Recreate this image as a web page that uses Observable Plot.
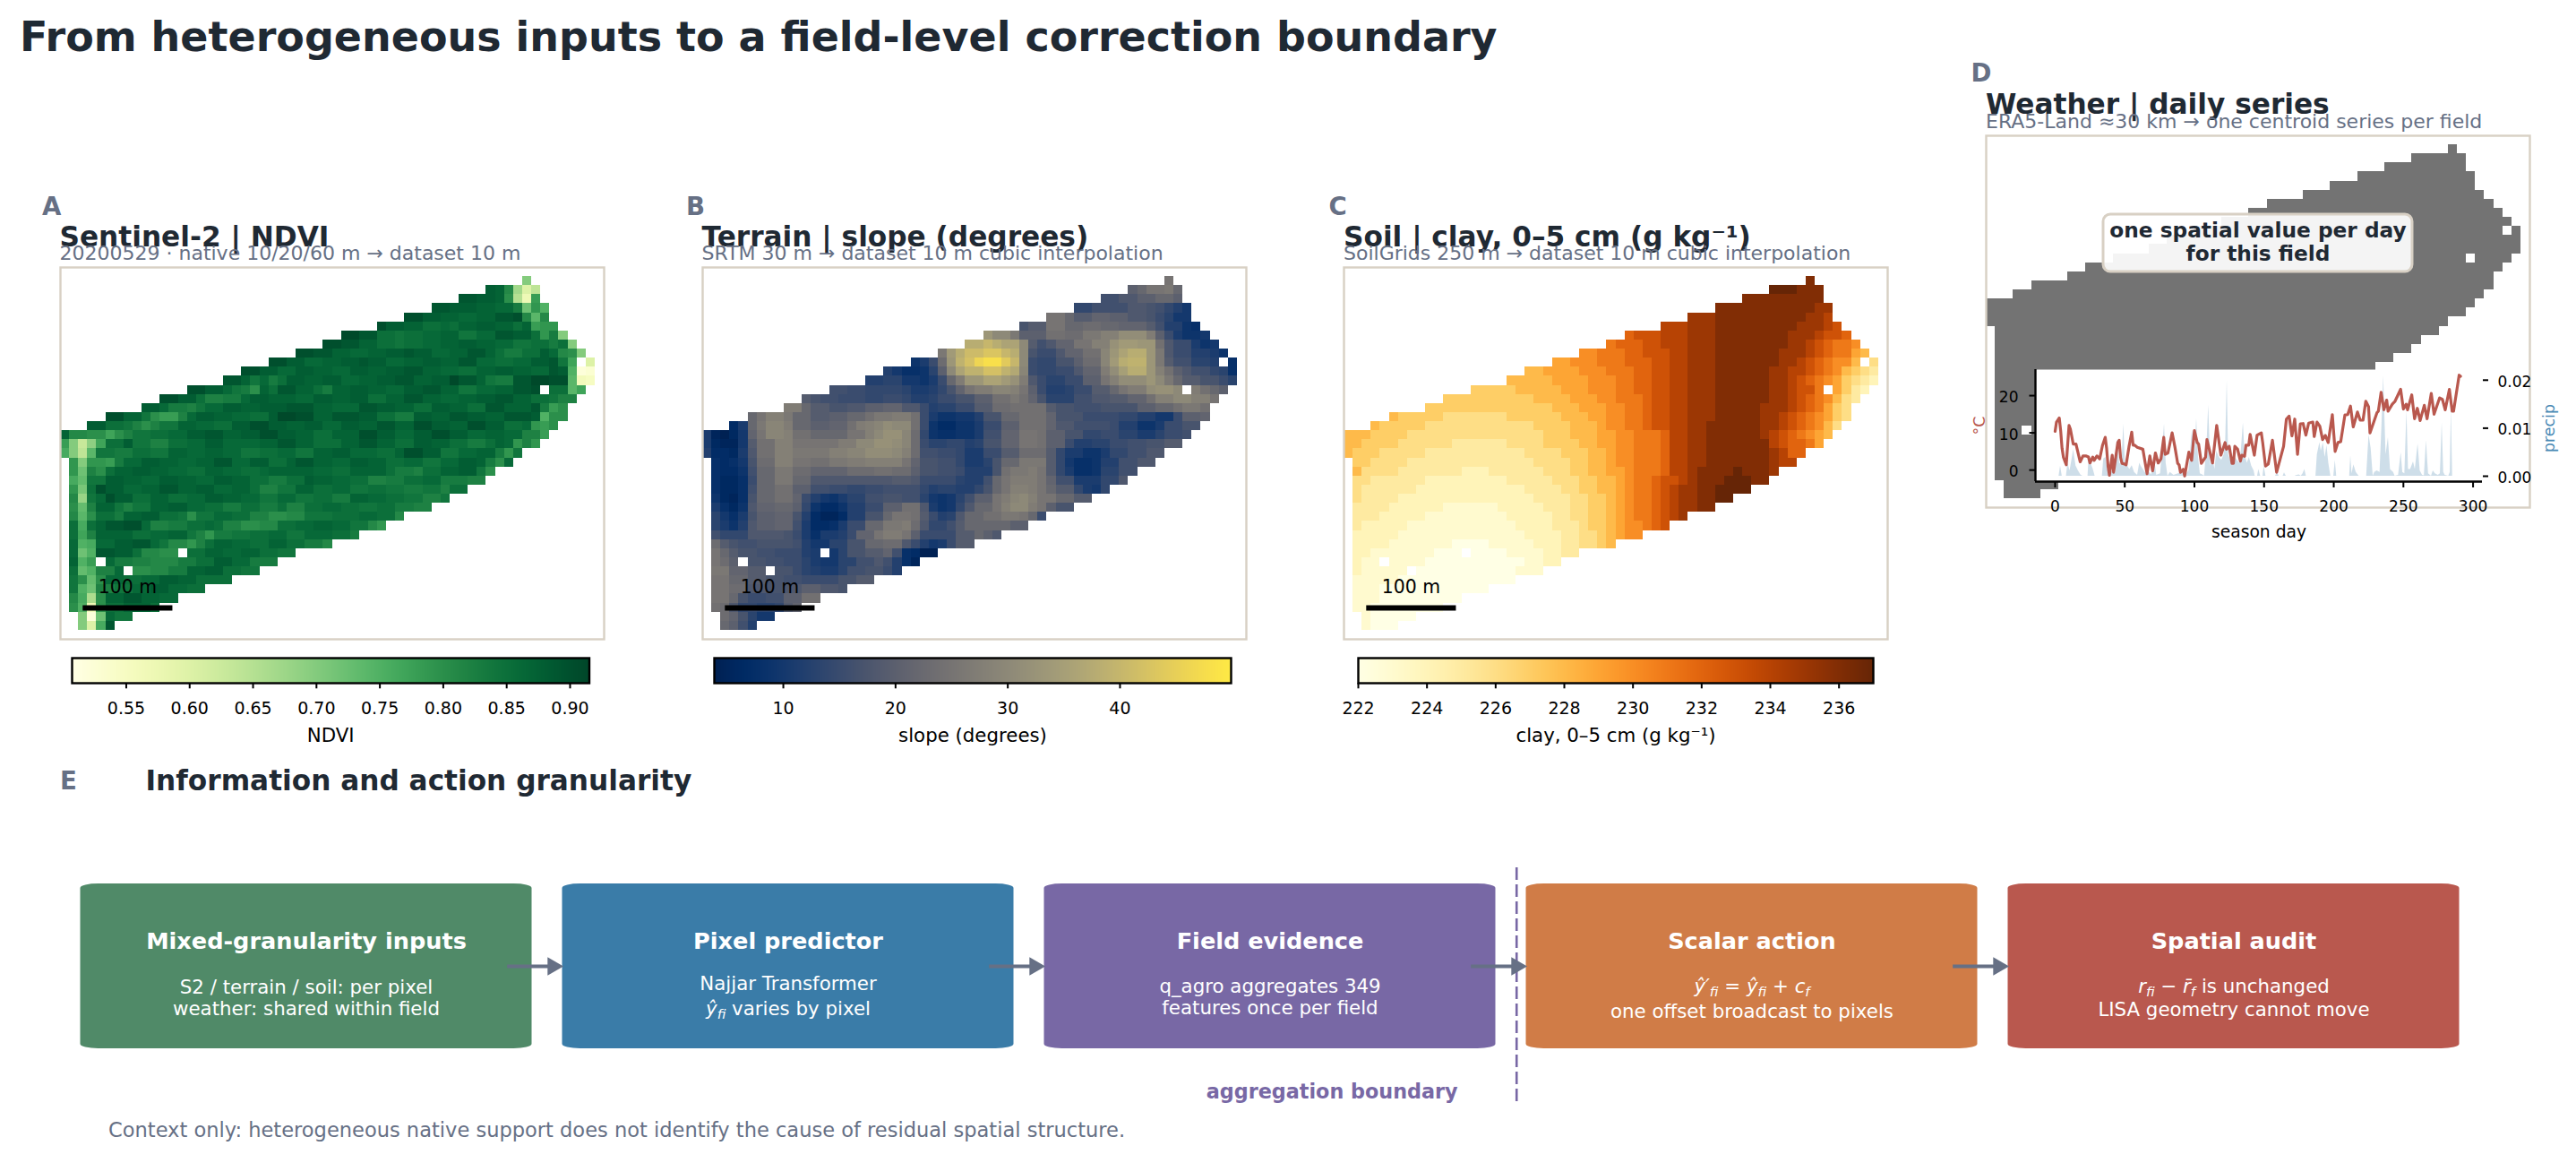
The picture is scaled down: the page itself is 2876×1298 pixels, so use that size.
<!DOCTYPE html>
<html><head><meta charset="utf-8">
<script src="https://cdn.jsdelivr.net/npm/d3@7"></script>
<script src="https://cdn.jsdelivr.net/npm/@observablehq/plot@0.6"></script>
<style>
html,body{margin:0;padding:0;background:#fff;}
#page{position:relative;width:2876px;height:1298px;overflow:hidden;font-family:"DejaVu Sans";color:#000;}
#page svg{position:absolute;background:transparent;max-width:none;height:auto;}
.lab{position:absolute;white-space:nowrap;line-height:0;}
</style></head><body><div id="page"></div>
<script>
// ---------- field grid (row 1..39, 60 x 41 cell raster) ----------
const rowFirst=[51,47,44,41,38,35,31,29,26,23,20,18,14,11,9,5,3,0,0,0,1,1,1,1,1,1,1,1,1,1,1,1,1,1,1,1,1,2,2];
const rowLast=[52,53,53,54,54,55,56,57,58,59,59,59,58,57,56,56,55,54,53,51,50,48,47,45,43,41,38,36,33,30,26,24,22,19,16,13,11,8,6];
const holes=["10,57","13,53","31,13","32,4","33,7"];
// each string: "startCol:value" runs
const ndviRuns=[
"51:.70",
"47:.88 48:.87 49:.81 50:.67 51:.60 52:.64",
"44:.89 46:.88 48:.87 49:.80 50:.65 51:.57 52:.78",
"41:.89 43:.88 46:.87 48:.86 50:.83 51:.72 52:.79 53:.75",
"38:.90 40:.88 42:.87 44:.86 46:.87 48:.89 50:.90 51:.81 52:.74 53:.81",
"35:.90 36:.88 38:.87 40:.85 42:.86 43:.85 44:.87 46:.88 48:.87 50:.85 51:.87 52:.78 53:.79",
"31:.91 33:.89 35:.85 37:.84 38:.85 40:.86 42:.87 44:.84 46:.86 48:.89 50:.88 52:.85 53:.79 54:.83 55:.70",
"29:.90 31:.89 33:.87 35:.85 37:.84 38:.85 40:.86 42:.87 44:.88 46:.87 48:.86 50:.84 52:.85 54:.83 55:.85 56:.70",
"26:.90 28:.89 30:.87 32:.86 34:.87 36:.88 38:.89 39:.88 41:.86 43:.87 45:.89 47:.87 48:.85 49:.83 51:.85 53:.88 54:.86 55:.81 56:.80 57:.70",
"23:.90 25:.88 27:.86 29:.87 31:.88 33:.89 34:.88 36:.86 38:.87 40:.88 42:.87 44:.89 46:.86 48:.85 50:.86 52:.88 54:.89 55:.84 56:.77 58:.60",
"20:.90 22:.88 24:.86 26:.88 28:.87 30:.86 32:.88 34:.87 36:.88 38:.89 40:.87 42:.86 44:.85 46:.87 48:.88 50:.87 52:.86 54:.89 55:.88 56:.75 57:.52 58:.53",
"18:.89 20:.87 21:.84 22:.86 23:.83 24:.85 25:.88 27:.87 29:.88 31:.86 33:.87 35:.88 37:.89 39:.87 41:.88 43:.91 44:.89 46:.87 47:.84 48:.83 50:.89 52:.91 54:.90 56:.74 57:.56 58:.55",
"14:.90 16:.88 18:.86 19:.84 20:.83 21:.80 22:.87 23:.85 24:.89 26:.87 28:.85 29:.83 30:.87 32:.88 34:.87 36:.86 38:.88 40:.89 42:.87 44:.84 46:.86 48:.87 50:.89 52:.90 54:.85 56:.74 57:.77",
"11:.90 13:.88 15:.85 16:.82 18:.83 20:.86 21:.88 23:.87 26:.86 28:.88 30:.87 32:.88 34:.85 36:.87 38:.89 40:.87 42:.86 44:.87 46:.88 48:.89 50:.87 52:.85 54:.84 55:.82",
"9:.88 11:.86 12:.83 14:.82 15:.84 16:.86 18:.88 20:.87 22:.88 25:.89 28:.87 30:.86 33:.89 35:.88 37:.87 39:.85 41:.88 43:.87 45:.85 47:.89 49:.87 52:.89 53:.83 54:.78 55:.80",
"5:.90 7:.87 9:.84 10:.80 11:.78 13:.82 14:.86 15:.88 17:.87 19:.86 21:.85 23:.88 24:.91 26:.90 28:.87 30:.89 33:.88 35:.85 37:.83 39:.88 41:.87 43:.89 45:.88 47:.87 49:.89 52:.88 53:.75 54:.80",
"3:.88 5:.85 7:.84 8:.82 9:.80 10:.82 11:.84 13:.87 15:.86 17:.85 19:.88 21:.90 23:.88 25:.87 27:.88 29:.86 31:.88 33:.87 35:.89 37:.87 39:.90 41:.88 43:.87 45:.90 47:.88 49:.85 51:.86 52:.79 53:.78 54:.80",
"0:.87 1:.81 3:.80 5:.77 6:.80 7:.82 8:.84 10:.85 12:.86 14:.88 16:.89 18:.87 20:.88 22:.90 24:.88 26:.87 28:.85 30:.87 33:.90 35:.88 37:.86 39:.88 41:.90 43:.88 45:.86 47:.87 49:.86 51:.82 53:.78",
"0:.78 1:.70 2:.63 3:.69 4:.77 5:.85 7:.88 8:.84 10:.82 12:.85 14:.86 16:.88 18:.86 22:.87 24:.89 26:.87 28:.85 31:.87 33:.89 35:.87 37:.85 39:.88 41:.87 43:.85 45:.83 47:.85 48:.87 49:.86 50:.79 51:.82 52:.79",
"0:.76 1:.70 2:.64 3:.74 4:.84 6:.83 8:.85 10:.84 12:.87 14:.86 16:.87 18:.86 20:.84 22:.85 24:.86 26:.84 28:.87 30:.88 32:.86 35:.85 37:.87 38:.90 40:.88 42:.84 44:.86 46:.87 48:.83 49:.79 50:.84",
"1:.79 2:.70 3:.79 5:.78 6:.83 7:.86 9:.88 11:.87 13:.86 15:.87 17:.89 19:.86 21:.88 23:.85 25:.87 26:.89 28:.87 30:.86 32:.88 34:.87 36:.85 38:.86 40:.84 42:.86 44:.88 46:.87 47:.83 48:.80 49:.86",
"1:.79 2:.72 3:.82 4:.80 5:.85 6:.87 8:.88 10:.87 12:.86 14:.85 16:.87 18:.86 20:.85 22:.86 23:.87 28:.86 30:.85 32:.87 36:.85 37:.83 39:.82 40:.85 42:.87 44:.88 46:.84 47:.80",
"1:.76 2:.73 3:.84 5:.88 7:.87 9:.86 11:.88 13:.87 15:.86 17:.88 19:.87 21:.85 23:.83 25:.85 27:.88 28:.87 30:.86 32:.85 34:.82 36:.83 38:.85 40:.86 42:.83 45:.82",
"1:.79 2:.71 3:.85 4:.90 5:.88 7:.86 9:.87 11:.89 13:.87 15:.88 17:.86 19:.87 21:.85 22:.82 24:.84 26:.87 28:.85 30:.86 32:.84 34:.85 36:.84 38:.83 40:.84 42:.82 43:.85",
"1:.81 2:.68 3:.84 4:.86 5:.90 6:.88 8:.85 10:.87 12:.85 14:.86 16:.88 18:.87 20:.86 22:.84 24:.86 26:.84 28:.85 30:.83 32:.87 34:.86 36:.85 38:.84 40:.82 42:.84",
"1:.80 2:.73 3:.82 4:.87 6:.84 7:.82 8:.84 10:.87 12:.88 14:.86 16:.85 18:.83 20:.85 22:.83 24:.85 25:.82 27:.85 29:.86 31:.85 33:.84 35:.85 37:.83 39:.82",
"1:.81 2:.74 3:.80 4:.85 6:.83 7:.87 9:.88 11:.85 13:.84 14:.80 15:.84 17:.86 19:.85 21:.82 23:.80 25:.81 27:.84 30:.85 33:.86 35:.85 37:.81",
"1:.85 2:.76 3:.85 4:.87 5:.89 7:.90 9:.86 10:.82 12:.83 14:.85 16:.86 17:.85 18:.82 20:.80 22:.81 24:.85 26:.86 28:.87 30:.86 32:.84 34:.81 35:.79",
"1:.85 2:.77 3:.82 4:.87 8:.85 10:.86 12:.87 14:.84 15:.82 16:.79 17:.83 19:.84 21:.85 23:.86 25:.84 27:.86 30:.85 32:.83",
"1:.86 2:.75 3:.76 4:.86 6:.88 8:.89 10:.86 11:.84 12:.81 14:.79 15:.82 16:.85 17:.87 19:.86 21:.85 23:.87 25:.85 27:.83 29:.81",
"1:.86 2:.72 3:.75 4:.89 6:.88 8:.85 9:.81 11:.80 14:.85 16:.87 18:.86 20:.87 22:.85 24:.84",
"1:.87 2:.75 3:.78 5:.86 6:.83 8:.82 10:.81 13:.83 15:.85 17:.88 19:.86 21:.83",
"1:.85 2:.73 3:.75 4:.82 6:.86 8:.80 10:.81 12:.83 14:.87 16:.88 18:.85 20:.84",
"1:.84 2:.80 3:.73 4:.80 5:.86 7:.85 9:.86 11:.88 13:.87 15:.85",
"1:.84 2:.75 3:.72 4:.82 6:.84 8:.86 10:.88 12:.86 14:.85",
"1:.81 2:.76 3:.66 4:.80 5:.87 7:.89 9:.87 11:.86",
"1:.80 2:.75 3:.57 4:.80 5:.85 7:.87 10:.85",
"2:.70 3:.52 4:.72 5:.86 6:.84",
"2:.70 3:.60 4:.76 5:.89"];
const slopeRuns=[
"51:25",
"47:20 48:22 49:25 51:26 52:22",
"44:16 46:18 48:20 50:22 52:20",
"41:14 43:16 47:18 49:17 50:16 51:14 52:12 53:10",
"38:25 40:22 41:19 43:21 45:20 47:18 49:17 50:15 51:13 52:10",
"35:17 36:19 38:25 40:22 42:23 44:22 46:21 49:19 50:16 51:12 53:9 54:8",
"31:33 32:30 34:26 35:20 38:24 40:23 42:26 44:28 46:31 49:27 50:20 51:15 52:11 53:9 55:10",
"29:38 31:40 32:38 33:36 35:30 36:19 37:16 38:18 39:21 41:25 43:28 45:32 46:34 48:33 50:24 51:18 52:15 54:11 55:9 56:10",
"26:26 27:34 28:38 29:41 31:43 33:40 34:38 35:30 36:17 37:15 39:18 40:21 42:24 44:29 45:33 46:36 47:38 49:33 50:26 51:18 52:15 54:12 56:11 57:9",
"23:9 24:11 25:15 26:23 27:33 28:39 29:42 30:46 31:48 33:44 34:40 35:30 36:15 37:14 39:17 41:20 42:23 44:29 45:34 46:38 47:39 49:33 50:26 51:19 52:16 54:13 56:12 58:8",
"20:12 21:10 22:8 24:9 25:13 26:20 27:30 28:36 29:39 31:42 33:39 34:37 35:29 36:15 37:14 39:15 41:18 42:21 44:27 45:31 46:35 47:38 49:33 50:28 51:24 52:20 53:18 54:16 56:14 57:13 58:8",
"18:12 20:13 22:10 24:9 25:11 26:15 27:22 28:27 29:33 31:36 33:34 34:32 35:27 36:18 37:15 38:13 40:15 42:20 44:25 45:28 46:31 49:33 50:30 51:26 52:22 53:19 55:17 57:15 58:13",
"14:16 16:15 18:14 22:13 23:11 25:12 26:14 27:17 28:21 29:25 30:27 32:29 34:28 35:25 36:20 37:15 38:12 40:13 41:15 43:19 45:22 46:25 47:27 49:31 50:32 52:30 54:27 55:24 56:22 57:20",
"11:19 12:17 13:16 15:15 18:14 20:15 22:14 23:12 25:13 26:15 28:17 30:20 32:24 34:26 35:24 36:21 37:17 38:13 41:16 43:18 45:19 47:21 49:24 50:28 52:30 54:28 56:25",
"9:27 11:22 12:19 14:17 16:18 18:20 20:21 22:18 24:15 25:12 26:13 28:15 30:19 32:23 34:24 38:19 39:17 41:16 44:17 48:20 50:22 52:24 53:26 55:24",
"5:22 6:25 7:28 9:26 10:22 12:19 14:20 16:22 18:24 19:26 21:27 23:24 24:15 25:11 26:9 28:10 30:12 31:17 33:22 35:24 38:21 39:17 42:15 46:14 48:12 50:10 52:15 53:20 55:21",
"3:7 4:11 5:22 6:26 7:29 9:27 10:22 12:20 14:21 16:24 17:27 18:28 19:29 20:31 21:30 23:24 24:15 25:9 26:7 28:9 30:11 31:15 33:20 35:24 38:21 39:18 41:16 45:15 46:12 48:9 50:11 51:15 53:17",
"0:11 1:5 2:4 3:6 4:10 5:21 6:25 7:29 9:28 10:24 12:22 16:25 18:28 19:30 20:32 22:29 23:23 24:14 25:9 26:8 28:9 30:11 31:16 33:21 35:25 37:24 38:20 40:17 42:14 44:15 46:13 48:11 50:13 51:15 53:16",
"0:11 1:6 2:5 4:10 5:19 6:24 8:28 10:25 15:27 17:30 19:32 21:31 22:29 23:23 24:15 25:13 27:14 29:12 30:13 31:17 33:21 35:25 37:24 38:20 40:15 41:12 43:13 45:15 47:16 49:17 51:19",
"0:12 1:7 3:6 4:11 5:18 6:24 8:28 10:26 14:28 16:29 18:31 21:30 22:28 23:23 24:16 26:15 28:14 29:11 31:15 33:19 35:23 38:19 39:14 40:11 42:9 44:11 45:14 47:16 49:18",
"1:8 2:7 3:8 4:10 5:17 6:23 8:28 10:25 12:24 14:26 16:27 18:28 22:25 23:21 24:17 26:16 28:14 29:11 31:13 32:17 33:22 35:26 38:19 39:14 40:10 41:8 43:9 44:12 46:16 48:18",
"1:8 2:7 4:9 5:16 6:22 8:26 10:23 12:21 16:23 19:24 21:23 23:20 24:17 26:16 28:15 29:12 32:17 33:24 34:26 36:27 37:25 38:19 39:14 40:11 41:8 43:9 44:13 46:16",
"1:8 2:6 4:8 5:15 6:22 8:26 10:22 12:18 21:19 23:18 24:15 28:13 29:12 31:16 32:22 33:25 34:27 37:25 38:21 39:16 41:11 44:14 46:18",
"1:8 2:6 4:8 5:16 6:22 8:24 10:20 12:16 14:15 16:14 18:15 20:16 24:14 25:12 26:13 28:12 30:14 31:17 32:22 33:25 34:28 36:27 37:25 38:22 39:19 41:14 42:11 43:10 44:14",
"1:9 2:6 3:5 4:8 5:17 6:22 8:24 10:21 11:15 12:12 13:10 14:9 15:11 16:13 18:16 20:17 22:16 24:13 25:10 26:9 27:10 28:13 29:16 30:20 32:25 33:27 34:29 35:30 36:28 37:25 39:22 41:19",
"1:11 2:8 3:6 4:9 5:18 6:21 8:22 10:20 11:14 12:9 13:7 15:9 16:12 18:15 20:20 22:24 24:18 25:11 26:9 27:10 28:14 29:18 30:22 32:25 33:28 34:30 36:27 37:25 38:20 39:17",
"1:13 2:10 3:8 4:11 5:17 6:20 8:21 10:17 11:12 12:7 13:5 15:7 16:12 18:17 20:22 21:25 23:24 24:19 25:15 26:12 27:13 28:18 29:22 31:24 33:26 35:25 36:22 37:15",
"1:13 2:11 3:9 4:12 5:18 6:20 8:21 10:16 11:11 12:7 14:8 15:11 16:15 18:22 20:26 22:27 23:23 24:18 25:14 27:16 28:19 29:22 34:20",
"1:16 2:14 5:18 9:17 10:15 11:11 12:8 13:11 15:12 16:15 17:21 19:25 20:27 22:25 23:20 24:15 28:19 30:22 31:20 32:18",
"1:23 2:19 3:17 4:16 6:17 10:16 11:12 12:10 14:13 16:17 18:22 20:23 22:18 23:15 24:12 25:10 26:11 27:15 28:19",
"1:25 2:22 3:19 4:17 6:16 8:15 11:12 12:11 14:10 15:13 16:17 18:19 20:21 21:16 22:8 23:7 24:4",
"1:25 2:23 3:20 5:17 7:16 9:15 11:13 12:11 13:10 15:13 17:16 19:18 20:16 21:12 22:8 23:5",
"1:26 3:21 5:19 7:17 10:15 11:13 12:12 13:11 15:13 16:16 18:17 20:15 21:12",
"1:25 3:22 5:19 7:17 9:16 11:15 15:17 17:19",
"1:25 3:23 5:18 7:17 9:18 11:20 13:18 15:17",
"1:25 3:22 4:17 5:15 7:16 9:20 11:24",
"1:24 2:23 3:18 4:14 6:13 8:14 9:19 10:21",
"2:23 3:21 4:17 5:13 6:10",
"2:22 3:20 4:16 5:12"];
const clayRuns=[
"51:236",
"47:237 50:236",
"44:236",
"41:236 52:235",
"38:235 41:236 51:235 53:234",
"35:234 38:235 41:236 50:235 53:234 54:233",
"31:232 32:233 35:234 38:235 41:236 49:235 52:234 53:233 55:232",
"29:231 30:232 33:233 35:234 38:235 41:236 49:235 51:234 52:233 53:232 54:231 56:230",
"26:230 28:231 31:232 33:233 36:234 38:235 41:236 48:235 51:234 52:233 53:232 54:231 56:229 57:228",
"23:229 25:230 28:231 31:232 34:233 36:234 38:235 41:236 48:235 50:234 51:233 52:232 53:231 54:230 56:228 58:226",
"20:228 22:229 26:230 29:231 32:232 34:233 36:234 38:235 41:236 47:235 49:234 51:233 52:232 53:231 54:230 55:228 56:227 57:226 58:225",
"18:228 23:229 27:230 30:231 32:232 34:233 36:234 38:235 41:236 47:235 49:234 50:233 51:232 52:231 53:230 54:229 55:227 56:226 57:225 58:224",
"14:227 19:228 24:229 27:230 30:231 32:232 34:233 36:234 38:235 41:236 47:235 49:234 50:233 52:231 54:229 55:227 56:225 57:224",
"11:227 21:228 25:229 28:230 30:231 33:232 34:233 36:234 38:235 41:236 47:235 49:234 50:233 51:232 52:231 53:230 54:228 55:226 56:225",
"9:227 23:228 26:229 29:230 31:231 33:232 34:233 36:234 38:235 41:236 46:235 49:234 50:233 51:232 52:231 53:229 54:227 55:226",
"5:228 6:227 11:226 18:227 24:228 27:229 29:230 31:231 33:232 34:233 36:234 38:235 41:236 46:235 48:234 49:233 50:232 51:231 52:230 53:229 54:227 55:226",
"3:228 4:227 9:226 21:227 25:228 28:229 29:230 31:231 33:232 34:233 36:234 38:235 40:236 46:235 48:234 49:233 50:232 51:231 52:230 53:228 54:226",
"0:228 3:227 7:226 22:227 25:228 28:229 30:230 32:231 35:232 36:234 38:235 40:236 46:235 47:234 48:233 49:232 50:231 51:230 52:229 53:228",
"0:228 2:227 6:226 12:225 18:226 22:227 26:228 28:229 30:230 32:231 35:232 36:234 38:235 40:236 47:234 48:233 49:232 51:231 52:229",
"0:228 1:227 4:226 9:225 20:226 24:227 27:228 29:229 30:230 32:231 35:232 36:234 38:235 40:236 47:235 48:234 49:232",
"1:227 3:226 7:225 21:226 25:227 27:228 29:229 30:230 32:231 35:232 36:234 38:235 40:236 47:235 48:234",
"1:228 2:226 6:225 13:224 16:225 22:226 25:227 27:228 29:229 31:230 32:231 35:232 36:234 38:235 39:236 43:237 44:236 47:235",
"1:226 3:225 9:224 18:225 23:226 26:227 28:228 30:229 31:230 32:231 34:232 35:233 37:234 38:235 39:236 42:237 45:236",
"1:226 2:225 8:224 20:225 24:226 26:227 28:228 30:229 31:230 32:231 34:232 35:233 36:234 37:235 39:236 41:237",
"1:226 2:225 6:224 21:225 25:226 27:227 29:228 30:229 31:230 32:231 34:232 35:233 36:234 37:235 39:236 41:237",
"1:225 5:224 11:223 17:224 22:225 25:226 27:227 29:228 30:229 31:230 32:231 34:232 35:233 36:234 37:235 39:236",
"1:225 4:224 9:223 18:224 23:225 25:226 27:227 29:228 30:229 31:230 32:231 34:232 35:233 36:234 37:235",
"1:225 2:224 7:223 19:224 23:225 26:226 27:227 29:228 30:229 31:230 33:231 34:232 35:233",
"1:224 6:223 20:224 24:225 26:226 28:227 29:228 30:229 31:230",
"1:224 5:223 12:222 16:223 21:224 24:225 26:226 28:227 29:228",
"1:224 3:223 10:222 18:223 22:224 24:225",
"1:224 2:223 9:222 20:223 22:224",
"1:224 2:223 8:222 19:223",
"1:223 6:222",
"1:223 4:222",
"1:223 4:222",
"1:223 3:222",
"2:223 3:222",
"2:223 3:222"];

// ---------- weather inset ----------
const tempDays=[0,1,3,4,5,6,8,10,11,13,15,17,18,20,22,24,25,27,28,30,32,34,36,37,38,39,41,42,45,46,47,48,50,51,53,55,56,57,59,63,64,66,68,70,72,74,76,78,79,81,84,86,88,89,90,92,93,96,98,100,102,103,105,108,109,113,116,119,122,123,125,127,128,129,131,133,134,136,137,139,140,143,145,148,149,151,153,156,159,164,166,168,170,172,174,176,178,180,182,185,186,188,190,192,194,196,199,201,203,205,208,210,212,214,217,219,221,223,225,226,229,231,232,234,236,238,239,242,244,248,250,252,253,256,258,260,262,265,267,270,272,276,278,280,283,285,286,290,291];
const tempValues=[10.4,12.9,14,10.6,5.8,3.4,1.4,12,11,7,7,3.8,2.2,3.8,3.8,3.5,1.9,3.5,2.6,3.8,3,6.6,8.8,5.8,1,-1.4,4,-.6,7.4,8,3.4,1.8,1.6,1.4,6.2,10.2,6.7,6.7,6.1,5.6,3.4,-1,3.8,-.2,4.6,1.9,3,8.8,4.2,4.6,10,6.2,1.8,1.4,-.6,.2,-1.6,4.8,2.6,10.6,7.4,7,1.8,3.5,8.2,1.9,12,4,7.4,5.6,6.4,1.8,1.8,6.4,5.6,2.4,4,3.7,6.7,6.7,9.6,4,9.4,10,7.4,1.1,1.6,8,-.6,6.4,13.7,14.5,9.2,13.7,4.2,12.4,12.5,9.4,12.6,12.9,9,12.9,11.8,8.2,9.3,7.4,14.9,5,7.4,7.6,14.8,14.9,17.2,11.6,15.6,13.4,13.4,18.5,17,10,13.2,15.4,15.8,20.9,16.2,18.8,15.8,17.7,18.5,21.7,16.4,17.7,16.2,20.2,13.8,16.6,13.3,17.4,13.8,20.6,15,19.4,19,16.2,21.7,15.8,15.8,25.5,25.2];
const precipDays=[2.8,3.9,5.1,8.1,9.2,10.7,13.3,15,16.7,18.4,19.9,23.6,24.2,25.7,27.4,28.7,33.9,34.9,36.4,37.7,39.9,42,43.5,44.6,46.3,47.8,49.3,50.4,52.1,53.6,55.3,57,59.2,60.7,61.7,63.9,66,67.7,69.2,71.4,72.9,75.7,78.5,79.7,81,82.7,85.3,88.5,91.7,93.9,96,98.5,100.4,101.6,102.9,104.2,105.9,107.2,108.9,110.2,111.7,113.2,114.7,116,117.9,119.6,121.3,122.4,123.5,124.5,126,127.8,129.3,130.8,132.5,133.6,135.1,136.3,137.9,139.4,141.1,142.8,143.6,145.3,146.2,147.5,149.2,150,151.3,158.2,159.5,160.8,163.6,164.6,165.9,172.1,173.6,175.3,176.6,177.9,179.2,180.3,187.2,188.2,190,191,192.5,193.8,195.1,196.4,197.9,200,201.1,202.1,205.4,211.4,212.2,213.1,214.4,216.1,218.2,223.6,225.3,226.8,228.3,229.4,231.1,233.2,234.5,235.8,237.5,239.2,240.7,242.9,244,246.5,248.4,249.5,251,252.5,253.6,255.1,257.2,258.5,260.5,262,263.7,265,266.5,268,270.1,271.4,272.9,275,276.5,277.8,278.9,280,282.5,283.6,284.4,285.3,291];
const precipValues=[0,.0021,0,0,.0027,.0011,.0055,.0021,.0011,.0003,0,0,.0033,.0027,.0014,0,0,.0036,.0039,.0014,.0008,.0011,.0005,.0077,.0027,.0024,.0108,.0027,.0021,.0014,.0022,.0008,.0002,.0027,.0021,.0011,.0002,.0008,.0003,.0039,.0002,.0005,.0108,.0027,0,.0008,.0002,.0005,.0008,.0002,.0011,.0096,.0046,.0120,.0039,.0005,.0003,0,.0058,.0148,.0021,.0039,.0014,.0052,.0039,.0033,.0045,.0070,.0198,.0045,.0033,.0027,.0039,.0033,.0027,.0052,.0111,.0045,.0027,.0039,.0021,.0011,0,0,.0014,0,0,.0021,0,0,.0008,0,0,.0007,0,0,.0002,.0003,0,.0005,.0014,0,0,.0045,.0070,.0052,.0070,.0039,.0064,.0027,0,0,.0033,0,0,0,.0042,.0005,.0024,.0008,0,0,.0086,.0058,0,.0008,.0011,.0008,.0101,.0209,.0045,.0080,.0014,.0008,0,.0002,.0049,.0008,.0005,.0136,.0014,.0014,.0030,.0014,.0067,.0011,.0002,.0001,.0074,.0005,0,.0011,.0005,.0002,.0005,.0111,.0008,.0002,0,.0008,.0142,0,0];

// ---------- flow diagram ----------
const boxTitles=["Mixed-granularity inputs","Pixel predictor","Field evidence","Scalar action","Spatial audit"];
const boxFirstLine=["S2 / terrain / soil: per pixel","Najjar Transformer","q_agro aggregates 349","{i:ŷ′}{s:fi} = {i:ŷ}{s:fi} + {i:c}{s:f}","{i:r}{s:fi} − {i:r̄}{s:f} is unchanged"];
const boxSecondLine=["weather: shared within field","{i:ŷ}{s:fi} varies by pixel","features once per field","one offset broadcast to pixels","LISA geometry cannot move"];
const boxColors=["#508a68","#3a7ca8","#7868a5","#d07c47","#b9584e"];
const firstLineHeight=[62,66,63,63,63];
const secondLineHeight=[38,37.3,39,35,37];

const INK="#1f2933",MUTED="#667085",EDGE="#d8d0c4",RED="#b9584e",BLUE="#3a7ca8",PURPLE="#7868a5",GREY="#737373";
const FONT='"DejaVu Sans"';
const page=document.getElementById("page");
const ctx=document.createElement("canvas").getContext("2d");
const fit=(t,w,weight="normal")=>{ctx.font=`${weight} 100px ${FONT}`;return 100*w/ctx.measureText(t).width;};
function label(t,x,base,size,color,weight="normal"){
  const d=document.createElement("div");d.className="lab";d.textContent=t;
  d.style.cssText=`left:${x}px;top:${base-0.346*size}px;font-size:${size}px;color:${color};font-weight:${weight}`;
  page.append(d);
}
function place(svg,left,top){svg.style.left=left+"px";svg.style.top=top+"px";page.append(svg);return svg;}
function mathText(svg,fs){
  svg.querySelectorAll("text").forEach(t=>{
    const s=t.textContent; if(!s.includes("{"))return;
    t.textContent="";let low=false;
    for(const m of s.matchAll(/\{([is]):([^}]*)\}|([^{]+)/g)){
      const sp=document.createElementNS("http://www.w3.org/2000/svg","tspan");
      const sub=m[1]==="s";
      sp.textContent=m[2]??m[3];
      if(m[1])sp.setAttribute("font-style","italic");
      if(sub)sp.setAttribute("font-size",fs*.7);
      if(sub&&!low){sp.setAttribute("dy",fs*.2);low=true;}
      else if(!sub&&low){sp.setAttribute("dy",-fs*.2);low=false;}
      t.append(sp);
    }
  });
}
function nudgeYLabels(svg,px){
  svg.querySelectorAll('[aria-label="y-axis tick label"] text').forEach(t=>{
    t.setAttribute("transform",(t.getAttribute("transform")||"")+` translate(0,${px})`);
  });
  return svg;
}

// ---------- decode field ----------
function decode(runs){
  const out=[];
  runs.forEach((str,i)=>{
    const row=i+1;
    const parts=str.split(" ").map(p=>p.split(":").map(Number));
    for(let col=rowFirst[i];col<rowLast[i];col++){
      if(holes.includes(row+","+col))continue;
      let v=parts[0][1];
      for(const [c,val] of parts) if(c<=col) v=val;
      out.push({col,row,v});
    }
  });
  return out;
}

const FW=607,FH=415,COLS=60,ROWS=41,PAD=2;
function fieldPlot(cells,fill,color,extra=[]){
  return Plot.plot({
    width:FW+2*PAD,height:FH+2*PAD,marginLeft:PAD,marginRight:PAD,marginTop:PAD,marginBottom:PAD,
    style:{fontFamily:FONT,background:"transparent"},
    x:{domain:[0,COLS],axis:null},y:{domain:[ROWS,0],axis:null},color,
    marks:[Plot.rect(cells,{x1:"col",x2:d=>d.col+1,y1:"row",y2:d=>d.row+1,fill,shapeRendering:"crispEdges"}),
      Plot.frame({stroke:EDGE,strokeWidth:2.4}),...extra]
  });
}
const scaleBar=[{x1:2.5,x2:12.4,y:37.55,tx:7.4,ty:35.95,t:"100 m"}];
const barMarks=[
  Plot.ruleY(scaleBar,{x1:"x1",x2:"x2",y:"y",stroke:"black",strokeWidth:6}),
  Plot.text(scaleBar,{x:"tx",y:"ty",text:"t",fontSize:20.4,fill:"black",lineAnchor:"bottom"})
];
function colorbar(left,right,scheme,domain,ticks,fmt,text){
  const M=30;
  const svg=Plot.plot({
    width:right-left+2*M,height:103,marginLeft:M,marginRight:M,marginTop:2,marginBottom:73,
    style:{fontFamily:FONT,background:"transparent"},
    x:{domain},y:{domain:[0,1],axis:null},
    color:{type:"linear",scheme,domain},
    marks:[
      Plot.raster({fill:(x,y)=>x,x1:domain[0],x2:domain[1],y1:0,y2:1,pixelSize:1}),
      Plot.frame({stroke:"black",strokeWidth:2.4}),
      Plot.axisX({ticks,tickFormat:fmt,tickSize:6.3,tickPadding:14.5,fontSize:19,strokeWidth:2,label:null,fill:"black",stroke:"black"}),
      Plot.text([text],{frameAnchor:"bottom",dy:65.6,lineAnchor:"bottom",fontSize:21.3,fill:"black"})
    ]
  });
  place(svg,left-M,732);
}

// ---------- header text ----------
label("From heterogeneous inputs to a field-level correction boundary",22,57,fit("From heterogeneous inputs to a field-level correction boundary",1650,"bold"),INK,"bold");
const TS=fit("Sentinel-2 | NDVI",301,"bold");
const SS=fit("20200529 · native 10/20/60 m → dataset 10 m",515);
const LS=27.6;
[["A",47,66.5,"Sentinel-2 | NDVI","20200529 · native 10/20/60 m → dataset 10 m"],
 ["B",766,783.5,"Terrain | slope (degrees)","SRTM 30 m → dataset 10 m cubic interpolation"],
 ["C",1483.5,1500,"Soil | clay, 0–5 cm (g kg⁻¹)","SoilGrids 250 m → dataset 10 m cubic interpolation"]
].forEach(([l,lx,x,t,s])=>{
  label(l,lx,240.5,LS,MUTED,"bold");
  label(t,x,275,TS,INK,"bold");
  label(s,x,291,SS,MUTED);
});
label("D",2200.6,92,LS,MUTED,"bold");
label("Weather | daily series",2217,127,TS,INK,"bold");
label("ERA5-Land ≈30 km → one centroid series per field",2217,143.5,SS,MUTED);
label("E",67,881.7,LS,MUTED,"bold");
label("Information and action granularity",162.5,882,fit("Information and action granularity",610,"bold"),INK,"bold");
const CAP="Context only: heterogeneous native support does not identify the cause of residual spatial structure.";
label(CAP,121,1268.5,fit(CAP,1136),MUTED);

// ---------- panels A, B, C ----------
place(fieldPlot(decode(ndviRuns),"v",{type:"linear",scheme:"YlGn",domain:[.5073,.9152]},barMarks),66.5-PAD,298-PAD);
place(fieldPlot(decode(slopeRuns),"v",{type:"linear",scheme:"cividis",domain:[3.85,49.9]},barMarks),783.5-PAD,298-PAD);
place(fieldPlot(decode(clayRuns),"v",{type:"linear",scheme:"YlOrBr",domain:[222,237]},barMarks),1500-PAD,298-PAD);
colorbar(80,657.5,"YlGn",[.5073,.9152],[.55,.6,.65,.7,.75,.8,.85,.9],d3.format(".2f"),"NDVI");
colorbar(797,1374,"cividis",[3.85,49.9],[10,20,30,40],d3.format("d"),"slope (degrees)");
colorbar(1516,2091,"YlOrBr",[222,237],[222,224,226,228,230,232,234,236],d3.format("d"),"clay, 0–5 cm (g kg⁻¹)");

// ---------- panel D ----------
const annotation=[{x1:12.95,x2:47.05,y1:8.7,y2:15.02}];
const annoLines=[{t:"one spatial value per day",y:11.17},{t:"for this field",y:13.83}];
const ANNO=fit("one spatial value per day",331.5,"bold");
place(fieldPlot(decode(clayRuns),GREY,undefined,[
  Plot.rect(annotation,{x1:"x1",x2:"x2",y1:"y1",y2:"y2",fill:"white",fillOpacity:.92,stroke:EDGE,strokeWidth:3,rx:8}),
  Plot.text(annoLines,{x:30,y:"y",text:"t",fontSize:ANNO,fontWeight:"bold",fill:INK,lineAnchor:"bottom"})
]),2217-PAD,151-PAD);

const inset={width:680,height:220,marginLeft:82,marginRight:99,marginTop:12,marginBottom:83,
  style:{fontFamily:FONT,background:"transparent"}};
const xDom=[-14.1,306.7];
place(nudgeYLabels(Plot.plot({...inset,x:{domain:xDom},y:{domain:[-.00112,.0222]},
  marks:[
    Plot.frame({fill:"white",stroke:"none"}),
    Plot.areaY(precipDays,{x:(d)=>d,y:(d,i)=>precipValues[i],fill:BLUE,fillOpacity:.25}),
    Plot.axisY({anchor:"right",ticks:[0,.01,.02],tickFormat:d3.format(".2f"),tickSize:6,tickPadding:11,fontSize:17,strokeWidth:2,label:null,fill:"black",stroke:"black"}),
    Plot.axisX({ticks:[],label:null}),
    Plot.text(["precip"],{frameAnchor:"right",dx:75,dy:3,rotate:-90,fontSize:17.4,fill:"#4a8ab5",textAnchor:"middle"})
  ]}),2),2190,400);
place(nudgeYLabels(Plot.plot({...inset,x:{domain:xDom},y:{domain:[-3.1,27]},
  marks:[
    Plot.line(tempDays,{x:d=>d,y:(d,i)=>tempValues[i],stroke:RED,strokeWidth:3.2,curve:"linear"}),
    Plot.ruleX([xDom[0]],{stroke:"black",strokeWidth:2.4}),
    Plot.ruleY([-3.1],{stroke:"black",strokeWidth:2.4}),
    Plot.axisX({ticks:[0,50,100,150,200,250,300],tickFormat:d3.format("d"),tickSize:7,tickPadding:14,fontSize:17,strokeWidth:2,label:null,fill:"black",stroke:"black"}),
    Plot.axisY({anchor:"left",ticks:[0,10,20],tickFormat:d3.format("d"),tickSize:6.5,tickPadding:12.5,fontSize:17,strokeWidth:2,label:null,fill:"black",stroke:"black"}),
    Plot.text(["season day"],{frameAnchor:"bottom",dy:62,lineAnchor:"bottom",fontSize:18.7,fill:"black"}),
    Plot.text(["°C"],{frameAnchor:"left",dx:-62,rotate:-90,fontSize:17.4,fill:RED,textAnchor:"middle"})
  ]}),2),2190,400);

// ---------- panel E flow ----------
const STEP=538,LEFT=89.5,BOXW=504/538;
const FT=fit("Mixed-granularity inputs",358,"bold");
const FB=fit("weather: shared within field",298);
const idx=boxTitles.map((_,i)=>i);
const arrows=idx.slice(0,4);
const flow=Plot.plot({
  width:2876,height:368,marginLeft:0,marginRight:0,marginTop:0,marginBottom:0,
  style:{fontFamily:FONT,background:"transparent"},
  x:{domain:[-LEFT/STEP,(2876-LEFT)/STEP],axis:null},
  y:{domain:[-128,240],axis:null},
  marks:[
    Plot.rect(idx,{x1:i=>i,x2:i=>i+BOXW,y1:0,y2:184,fill:i=>boxColors[i],rx:20,ry:5}),
    Plot.ruleX([2.98],{y1:-59,y2:204,stroke:PURPLE,strokeWidth:2.6,strokeDasharray:"14,5"}),
    Plot.text(idx,{x:i=>i+BOXW/2,y:112,text:i=>boxTitles[i],fill:"white",fontWeight:"bold",fontSize:FT,lineAnchor:"bottom"}),
    Plot.text(idx,{x:i=>i+BOXW/2,y:i=>firstLineHeight[i],text:i=>boxFirstLine[i],fill:"white",fontSize:FB,lineAnchor:"bottom"}),
    Plot.text(idx,{x:i=>i+BOXW/2,y:i=>secondLineHeight[i],text:i=>boxSecondLine[i],fill:"white",fontSize:FB,lineAnchor:"bottom"}),
    Plot.ruleY(arrows,{x1:i=>i+.886,x2:i=>i+.985,y:92,stroke:MUTED,strokeWidth:4}),
    Plot.dot(arrows,{x:i=>i+.98,y:92,symbol:"triangle",r:7.6,rotate:90,fill:MUTED,stroke:"none"}),
    Plot.text(["aggregation boundary"],{x:2.858,y:-55,text:d=>d,textAnchor:"end",lineAnchor:"bottom",fill:PURPLE,fontWeight:"bold",fontSize:fit("aggregation boundary",281,"bold")})
  ]
});
mathText(flow,FB);
place(flow,0,930);
</script></body></html>
